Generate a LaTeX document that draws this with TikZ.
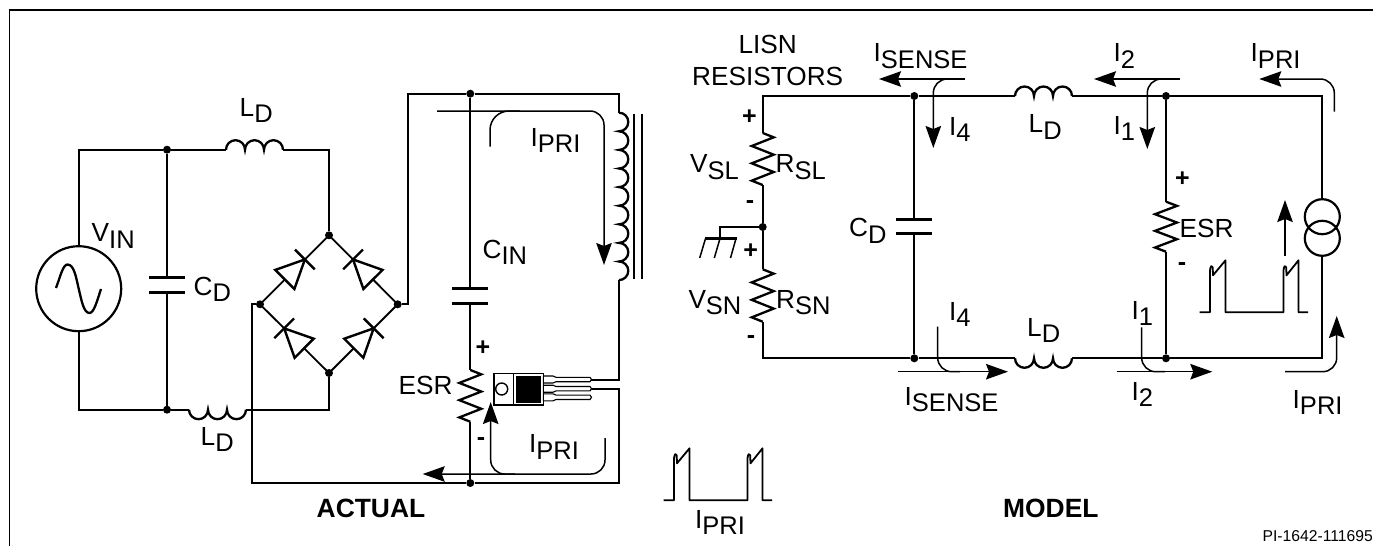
\documentclass[tikz,border=0pt]{standalone}
\usepackage{fontspec}
\setmainfont{Liberation Sans}
\usetikzlibrary{calc,arrows.meta}
\newcommand\Lab[2]{#1{\fontsize{25.5}{26}\selectfont\raisebox{-6.5pt}{#2}}}
\tikzset{
  wire/.style={line width=1.8pt,black},
  comp/.style={line width=2.3pt,black,line join=miter},
  cur/.style={line width=1.5pt,black,rounded corners=14pt},
  curarrow/.style={cur,-{Stealth[length=22pt,width=15.5pt,inset=3pt]}},
  dot/.style={circle,fill=black,inner sep=0pt,minimum size=8pt},
  txt/.style={anchor=base west,inner sep=0pt,font=\fontsize{26.2}{28}\selectfont},
  ctxt/.style={anchor=base,inner sep=0pt,font=\fontsize{26.2}{28}\selectfont},
  sign/.style={inner sep=0pt,font=\bfseries\fontsize{25}{28}\selectfont},
  ring/.style={circle,draw=black,line width=2.2pt,inner sep=0pt},
  plate/.style={line width=3pt,black},
}
% horizontal inductors (the y axis points down the page)
\newcommand\indT[2]{\draw[comp] (#1,#2) arc[start angle=180,end angle=360,radius=9.5] arc[start angle=180,end angle=360,radius=9.5] arc[start angle=180,end angle=360,radius=9.5];}
\newcommand\indB[2]{\draw[comp] (#1,#2) arc[start angle=180,end angle=0,radius=9.5] arc[start angle=180,end angle=0,radius=9.5] arc[start angle=180,end angle=0,radius=9.5];}
\newcommand\resistor[3]{\pgfmathsetmacro\dd{(#3-#2)/12}
  \draw[comp] (#1,#2) -- ++(11,\dd) -- ++(-22,2*\dd) -- ++(22,2*\dd) -- ++(-22,2*\dd) -- ++(22,2*\dd) -- ++(-22,2*\dd) -- ++(11,\dd);}
\newcommand\capH[3]{\draw[plate] (#1-18,#2) -- (#1+18,#2); \draw[plate] (#1-18,#3) -- (#1+18,#3);}
\newcommand\diode[2]{
  \coordinate (db) at ($(#1)!.65!(#2)$);
  \coordinate (dt) at ($(#1)!.36!(#2)$);
  \draw[comp,line width=2.4pt] ($(db)!14pt!90:(#2)$) -- ($(db)!14pt!-90:(#2)$);
  \draw[comp,line width=2.4pt,fill=white] ($(dt)!13.5pt!90:(#2)$) -- ($(dt)!13.5pt!-90:(#2)$) -- (db) -- cycle;}
\newcommand\wave[2]{\begin{scope}[shift={(#1,#2)}]
  \draw[wire,line join=round] (-10.5,0) -- (0,0) -- (0,-42) .. controls (0.5,-47) and (2,-47) .. (2.7,-45) -- (3,-37) -- (15.5,-52) -- (15.5,0) -- (73.5,0) -- (73.5,-42) .. controls (74,-47) and (75.5,-47) .. (76.2,-45) -- (76.5,-37) -- (88.5,-52) -- (88.5,0) -- (98,0);
  \end{scope}}
\begin{document}
\begin{tikzpicture}[x=1pt,y=-1pt]
\useasboundingbox (0,0) rectangle (1373,546);
% frame
\coordinate (fa) at (9.5,546); \coordinate (fb) at (9.5,10); \coordinate (fc) at (1373,10);
\draw[line width=1.4pt] (fa) -- (fb);
\draw[line width=2.2pt] (8.8,10) -- (fc);

% ===== ACTUAL: input side
\node[dot] (t1) at (167,149.7) {};
\node[dot] (b1) at (167,409.7) {};
\node[ring,minimum size=85pt] (src) at (78.7,288.7) {};
\coordinate (tl) at (78.7,149.7); \coordinate (bl) at (78.7,409.7);
\draw[wire] (src.north) -- (tl) -- (t1);
\draw[wire] (src.south) -- (bl) -- (b1);
\draw[comp] (56,288) .. controls (60.5,276) and (63,264.5) .. (67.5,264.5) .. controls (74,264.5) and (76,277) .. (78.7,288.7) .. controls (81.5,300) and (83.5,313) .. (89.5,313) .. controls (94,313) and (97,301) .. (101,289);
% C_D
\coordinate (cd1) at (167,277.3); \coordinate (cd2) at (167,292.3);
\draw[wire] (t1) -- (cd1); \draw[wire] (cd2) -- (b1);
\capH{167}{277.3}{292.3}
% bridge
\node[dot] (bt) at (329,235.3) {};
\node[dot] (bL) at (260,304.3) {};
\node[dot] (bR) at (397.7,304.3) {};
\node[dot] (bB) at (329,373) {};
\draw[wire] (bL.center) -- (bt.center) -- (bR.center) -- (bB.center) -- cycle;
\diode{bL}{bt}\diode{bR}{bt}\diode{bB}{bL}\diode{bB}{bR}
% L_D top
\coordinate (l1a) at (226,149.7); \coordinate (l1b) at (283,149.7); \coordinate (l1c) at (329,149.7);
\draw[wire] (t1) -- (l1a); \draw[wire] (l1b) -- (l1c) -- (bt);
\indT{226}{149.7}
% L_D bottom
\coordinate (l2a) at (189,409.7); \coordinate (l2b) at (246,409.7); \coordinate (l2c) at (329,409.7);
\draw[wire] (b1) -- (l2a); \draw[wire] (l2b) -- (l2c) -- (bB);
\indB{189}{409.7}
% bus
\node[dot] (t2) at (470.3,93.7) {};
\node[dot] (b2) at (470.3,483) {};
\coordinate (c1) at (407.7,304.3); \coordinate (c2) at (407.7,93.7); \coordinate (c3) at (619,93.7);
\coordinate (c4) at (619,112.7); \coordinate (c5) at (619,280);
\coordinate (c6) at (251.7,304.3); \coordinate (c7) at (251.7,483); \coordinate (c8) at (619,483);
\coordinate (p1) at (590,379.7); \coordinate (p2) at (590,388.7); \coordinate (p1r) at (619,379.7); \coordinate (p2r) at (619,388.7);
\draw[wire] (bR) -- (c1) -- (c2) -- (t2) -- (c3) -- (c4);
\draw[wire] (c5) -- (p1r) -- (p1);
\draw[wire] (bL) -- (c6) -- (c7) -- (b2) -- (c8) -- (p2r) -- (p2);
% transformer
\draw[comp] (c4) \foreach \i in {1,...,9} { arc[start angle=-90,end angle=90,radius=9.3] };
\draw[wire] (634.3,114) -- (634.3,279);
\draw[wire] (642.3,114) -- (642.3,279);
% C_IN and ESR
\coordinate (ci1) at (470.3,288.3); \coordinate (ci2) at (470.3,303);
\coordinate (r1a) at (470.3,370); \coordinate (r1b) at (470.3,421.7);
\draw[wire] (t2) -- (ci1); \draw[wire] (ci2) -- (r1a); \draw[wire] (r1b) -- (b2);
\capH{470.3}{288.3}{303}
\resistor{470.3}{370}{421.7}
% MOSFET
\draw[line width=1.4pt] (494,373.3) rectangle (513.3,405);
\node[circle,draw=black,line width=1.4pt,minimum size=12pt,inner sep=0pt] (fetc) at (501.7,389) {};
\draw[line width=1.4pt] (513.3,373.3) rectangle (543.3,405);
\fill (516,376) rectangle (541,402.5);
\foreach \y in {379.5,388.7,397.3} {
  \draw[line width=1.1pt,fill=white] (543.3,\y-3.5) -- (553,\y-3.5) -- (556,\y-2.2) -- (590,\y-2.2) -- (591.5,\y) -- (590,\y+2.2) -- (556,\y+2.2) -- (553,\y+3.5) -- (543.3,\y+3.5) -- cycle;
}
% ACTUAL current paths
\coordinate (a1) at (437,111); \coordinate (a2) at (604,111); \coordinate (a3) at (604,265);
\draw[curarrow] (a1) -- (a2) -- (a3);
\coordinate (a4) at (490,146.7); \coordinate (a5) at (490,111); \coordinate (a6) at (520,111);
\draw[cur,rounded corners=19pt] (a4) -- (a5) -- (a6);
\coordinate (a7) at (605,438); \coordinate (a8) at (605,474); \coordinate (a9) at (422.7,474);
\draw[curarrow] (a7) -- (a8) -- (a9);
\coordinate (a10) at (515,474); \coordinate (a11) at (490.7,474); \coordinate (a12) at (490.7,402);
\draw[curarrow] (a10) -- (a11) -- (a12);
% wave
\wave{674}{500.3}

% ===== MODEL
\coordinate (m1) at (762.7,96); \coordinate (m2) at (762.7,358.3);
\node[dot] (mt1) at (914.3,96) {};
\node[dot] (mb1) at (914.3,358.3) {};
\node[dot] (mt2) at (1166,96) {};
\node[dot] (mb2) at (1166,358.3) {};
\node[dot] (mg) at (762.7,227) {};
\coordinate (m3) at (1322.3,96); \coordinate (m4) at (1322.3,358.3);
\coordinate (ra1) at (762.7,133); \coordinate (ra2) at (762.7,185);
\coordinate (rb1) at (762.7,269.3); \coordinate (rb2) at (762.7,321.7);
\draw[wire] (ra1) -- (m1) -- (mt1);
\draw[wire] (ra2) -- (mg) -- (rb1);
\draw[wire] (rb2) -- (m2) -- (mb1);
\resistor{762.7}{133}{185}
\resistor{762.7}{269.3}{321.7}
% ground
\coordinate (g1) at (720,227); \coordinate (g2) at (720,238.5);
\draw[line width=1.3pt] (mg) -- (g1) -- (g2);
\draw[line width=3.4pt] (705,238.5) -- (736.7,238.5);
\draw[line width=1.5pt] (705.5,238.5) -- (699.7,258);
\draw[line width=1.5pt] (720,238.5) -- (714.3,258);
\draw[line width=1.5pt] (736,238.5) -- (730.5,258);
% C_D
\coordinate (cm1) at (914.3,219); \coordinate (cm2) at (914.3,233.3);
\draw[wire] (mt1) -- (cm1); \draw[wire] (cm2) -- (mb1);
\capH{914.3}{219}{233.3}
% L_D
\coordinate (lm1) at (1015,96); \coordinate (lm2) at (1072,96);
\coordinate (lm3) at (1015,358.3); \coordinate (lm4) at (1072,358.3);
\draw[wire] (mt1) -- (lm1); \draw[wire] (lm2) -- (mt2);
\draw[wire] (mb1) -- (lm3); \draw[wire] (lm4) -- (mb2);
\indT{1015}{96}
\indB{1015}{358.3}
% ESR
\coordinate (re1) at (1166,201.7); \coordinate (re2) at (1166,251.7);
\draw[wire] (mt2) -- (re1); \draw[wire] (re2) -- (mb2);
\resistor{1166}{201.7}{251.7}
% current source
\node[ring,minimum size=35pt] (s1) at (1322.3,216.7) {};
\node[ring,minimum size=35pt] (s2) at (1322.3,238.3) {};
\draw[wire] (mt2) -- (m3) -- (s1.north);
\draw[wire] (s2.south) -- (m4) -- (mb2);
% model currents
\coordinate (b1a) at (965,79); \coordinate (b1b) at (879,79);
\draw[curarrow] (b1a) -- (b1b);
\coordinate (b2a) at (950,79); \coordinate (b2b) at (933.3,79); \coordinate (b2c) at (933.3,148);
\draw[curarrow] (b2a) -- (b2b) -- (b2c);
\coordinate (b3a) at (898.3,371.7); \coordinate (b3b) at (1008,371.7);
\draw[curarrow] (b3a) -- (b3b);
\coordinate (b4a) at (937.7,326.7); \coordinate (b4b) at (937.7,371.7); \coordinate (b4c) at (960,371.7);
\draw[cur] (b4a) -- (b4b) -- (b4c);
\coordinate (b5a) at (1180,79); \coordinate (b5b) at (1094,79);
\draw[curarrow] (b5a) -- (b5b);
\coordinate (b6a) at (1162,79); \coordinate (b6b) at (1147.3,79); \coordinate (b6c) at (1147.3,149);
\draw[curarrow] (b6a) -- (b6b) -- (b6c);
\coordinate (b7a) at (1116.7,371.7); \coordinate (b7b) at (1212.3,371.7);
\draw[curarrow] (b7a) -- (b7b);
\coordinate (b8a) at (1141.7,327.3); \coordinate (b8b) at (1141.7,371.7); \coordinate (b8c) at (1165,371.7);
\draw[cur] (b8a) -- (b8b) -- (b8c);
\coordinate (b9a) at (1334.3,111.7); \coordinate (b9b) at (1334.3,79); \coordinate (b9c) at (1259.3,79);
\draw[curarrow] (b9a) -- (b9b) -- (b9c);
\coordinate (b10a) at (1285,371.7); \coordinate (b10b) at (1336.7,371.7); \coordinate (b10c) at (1336.7,316);
\draw[curarrow] (b10a) -- (b10b) -- (b10c);
\coordinate (b11a) at (1285,256); \coordinate (b11b) at (1285,200);
\draw[curarrow] (b11a) -- (b11b);
\wave{1210}{312.3}

% ===== labels
\node[txt] (tLD1) at (239.5,116) {\Lab{L}{D}};
\node[txt] (tVIN) at (91.5,241.7) {\Lab{V}{IN}};
\node[txt] (tCD1) at (193.5,295) {\Lab{C}{D}};
\node[txt] (tLD2) at (200.5,445) {\Lab{L}{D}};
\node[txt] (tESR1) at (398.5,394) {ESR};
\node[txt] (tCIN) at (482.5,258) {\Lab{C}{IN}};
\node[txt] (tI1) at (530.5,146) {\Lab{I}{PRI}};
\node[txt] (tI2) at (529,452.7) {\Lab{I}{PRI}};
\node[sign] (sp1) at (483,347.7) {+};
\node[sign] (sm1) at (481,441.7) {-};
\node[txt,font=\bfseries\fontsize{26.4}{28}\selectfont] (tACT) at (316.5,517.7) {ACTUAL};
\node[txt] (tI3) at (695,528.3) {\Lab{I}{PRI}};
\node[txt,font=\bfseries\fontsize{26.4}{28}\selectfont] (tMOD) at (1003,517.7) {MODEL};
\node[anchor=base east,inner sep=0pt,font=\fontsize{15.7}{18}\selectfont] (tPI) at (1373,541) {PI-1642-111695};
\node[ctxt] (tLISN) at (767.7,53.3) {LISN};
\node[ctxt] (tRES) at (767.7,85.7) {RESISTORS};
\node[txt] (tS1) at (873.5,61.7) {\Lab{I}{SENSE}};
\node[txt] (tI4a) at (949,135) {\Lab{I}{4}};
\node[txt] (tVSL) at (690,172.7) {\Lab{V}{SL}};
\node[txt] (tRSL) at (775.5,172.7) {\Lab{R}{SL}};
\node[txt] (tVSN) at (688.3,308.3) {\Lab{V}{SN}};
\node[txt] (tRSN) at (776,308.3) {\Lab{R}{SN}};
\node[txt] (tCD2) at (849,236.7) {\Lab{C}{D}};
\node[txt] (tI4b) at (949,320) {\Lab{I}{4}};
\node[txt] (tS2) at (904.5,405) {\Lab{I}{SENSE}};
\node[sign] (sp2) at (749.3,116.7) {+};
\node[sign] (sm2) at (750,205) {-};
\node[sign] (sp3) at (750.7,251) {+};
\node[sign] (sm3) at (751,339.3) {-};
\node[txt] (tI2a) at (1113.5,61.7) {\Lab{I}{2}};
\node[txt] (tP1) at (1250.5,61.7) {\Lab{I}{PRI}};
\node[txt] (tLD3) at (1028.5,132.7) {\Lab{L}{D}};
\node[txt] (tI1a) at (1113.5,134) {\Lab{I}{1}};
\node[sign] (sp4) at (1182.3,179.3) {+};
\node[sign] (sm4) at (1182,266.7) {-};
\node[txt] (tESR2) at (1179.5,237.3) {ESR};
\node[txt] (tLD4) at (1027,336) {\Lab{L}{D}};
\node[txt] (tI1b) at (1131.5,319.3) {\Lab{I}{1}};
\node[txt] (tI2b) at (1131.5,400) {\Lab{I}{2}};
\node[txt] (tP2) at (1292.5,408.3) {\Lab{I}{PRI}};
\end{tikzpicture}
\end{document}
